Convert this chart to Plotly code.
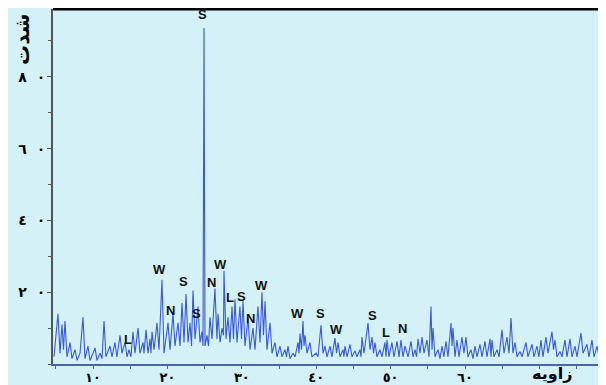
import plotly.graph_objects as go

# 2-theta angles (degrees) and intensities
angles = [4.75,5.02,5.29,5.56,5.83,6.03,6.23,6.50,6.91,7.17,7.58,7.85,8.25,8.65,8.92,9.32,9.59,10.00,10.27,10.53,
          10.94,11.21,11.48,11.74,12.28,12.55,12.95,13.22,13.63,13.89,14.30,14.57,14.84,15.10,15.37,15.64,16.05,16.31,16.72,16.85,
          17.12,17.39,17.66,17.79,17.93,18.20,18.60,18.87,19.27,19.54,19.81,20.08,20.35,20.75,21.02,21.42,21.69,21.96,22.23,22.50,
          22.77,23.03,23.24,23.44,23.71,24.11,24.38,24.65,24.78,24.92,25.05,25.32,25.52,25.72,25.99,26.39,26.66,26.80,27.07,27.34,
          27.54,27.60,27.87,28.14,28.41,28.68,28.88,29.08,29.35,29.75,29.96,30.16,30.43,30.83,31.10,31.50,31.77,32.17,32.44,32.71,
          32.91,33.12,33.38,33.79,34.06,34.46,34.73,35.13,35.40,35.80,36.00,36.21,36.47,36.88,37.15,37.55,37.68,37.82,38.02,38.22,
          38.36,38.49,38.76,39.16,39.43,39.97,40.24,40.64,40.91,41.18,41.45,41.85,42.12,42.52,42.73,42.93,43.20,43.60,43.73,43.87,
          44.14,44.54,44.81,45.21,45.48,45.88,46.02,46.15,46.42,46.96,47.23,47.50,47.70,47.90,48.17,48.57,48.84,49.24,49.38,49.51,
          49.78,50.18,50.45,50.86,51.13,51.39,51.66,51.93,52.34,52.74,53.01,53.28,53.48,53.68,53.95,54.22,54.49,54.89,55.16,55.43,
          55.56,55.70,55.96,56.37,56.64,56.91,57.17,57.44,57.71,58.12,58.25,58.38,58.65,58.92,59.19,59.59,59.86,60.13,60.40,60.80,
          61.07,61.34,61.61,62.01,62.28,62.68,62.95,63.36,63.49,63.63,63.89,64.30,64.57,64.97,65.24,65.64,65.91,66.18,66.45,66.72,
          66.99,67.39,67.66,67.93,68.20,68.46,69.00,69.27,69.67,69.94,70.21,70.48,70.88,71.15,71.69,71.89,72.09,72.36,72.77,73.03,
          73.44,73.71,74.11,74.38,74.78,75.05,75.59,75.86,76.39,76.66,77.07,77.34,77.74,78.01,78.41,78.68,78.95]

intensity = [2,8,14,3,11,4,12,2,6,1.5,4,1,3,13,1.5,5,1,3,4.5,1,
             3,1.5,12,2,5,2,6,2,8,3,6,2,4,2,9,3,10,3,6,3,
             9.5,3,7,3,9,4,11.5,4,23.5,3,8,11.5,4,14,5,11.5,5,17,6,19.5,
             6,11.5,5,20.5,7,16,6,9,5,93.6,5,8,5,13,7,21,7,14,6,10,
             8,26,7,13,6,16,7,18,6,16,7,17.5,5,13,4,10,4,16,6,20,
             8,17.5,4,11.5,3,6,2,5,2,4,2,5,1.5,3,2,6,3,8.5,4,12,
             5,8,3,6,2,3,2,10.8,3,5,2,5,2,7.2,3,6,2,4,2,5,
             2,5.5,2,3.7,2,4,2,7.5,3,11.4,4,7.5,3,6,2,4,2,6,2,6.7,
             2,6,2,6.3,2,6.7,2,5,2,6.3,2,4,2,7,3,7.5,3,6.7,2,16,
             4,10,2,4,1.5,5,2,6.3,2,11.4,5,10,2,6.7,2,7.5,3,7.5,2,4,
             1.5,5,2,5.5,2,6.3,2,7,2,6.7,2,4,2,9.5,3,7.5,3,12.8,3,6,
             2,3.5,2,4,6,2,5.5,2,5,2,6.7,2,7.5,3,9,4,6.7,2,3.5,2,
             6.7,2,7,2,5,2,8.6,3,5.5,2,6.7,2,5,2,6,2,4]

assert len(angles) == len(intensity), (len(angles), len(intensity))

# phase labels
label_text = ["S", "W", "S", "N", "S", "N", "W", "L", "S", "W", "N", "W", "S", "W", "S", "L", "N", "L"]
label_x = [24.78, 19.0, 22.1, 20.45, 23.97, 25.86, 27.2, 28.41, 30.02, 32.71, 31.23, 37.55, 40.51, 42.79, 47.63, 49.38, 51.53, 14.7]
label_y = [97.5, 26.2, 23.1, 14.8, 14.2, 22.6, 27.6, 18.4, 18.7, 22.0, 12.8, 14.2, 14.2, 9.5, 13.4, 8.9, 10.0, 6.7]

x_ticks = [10, 20, 30, 40, 50, 60]
x_ticktext = ["١٠", "٢٠", "٣٠", "٤٠", "٥٠", "٦٠"]
y_ticks = [20, 40, 60, 80]
y_ticktext = ["٢  \u200e٠", "٤  \u200e٠", "٦  \u200e٠", "٨  \u200e٠"]

bg = "#d3f1f7"
fig = go.Figure()
fig.add_trace(go.Scatter(x=angles, y=intensity, mode="lines",
                         line=dict(color="#3a5ad2", width=1.1), showlegend=False))

for t, xv, yv in zip(label_text, label_x, label_y):
    fig.add_annotation(x=xv, y=yv, text=t, showarrow=False, xref="x", yref="y",
                       font=dict(family="Liberation Sans", size=13, color="#111", weight="bold"))

fig.add_annotation(x=0.902, y=-0.028, xref="paper", yref="paper", text="زاویه", showarrow=False,
                   xanchor="center", yanchor="middle",
                   font=dict(family="DejaVu Sans", size=16, color="#000", weight="bold"))
fig.add_annotation(x=-0.056, y=0.913, xref="paper", yref="paper", text="شدت", showarrow=False,
                   textangle=-90, xanchor="center", yanchor="middle",
                   font=dict(family="DejaVu Sans", size=20, color="#000", weight="bold"))

# black rule on top
fig.add_shape(type="line", xref="paper", yref="paper", x0=0, x1=1, y0=1.0, y1=1.0,
              line=dict(color="black", width=3))

fig.update_layout(
    width=598, height=377,
    margin=dict(l=45, r=0, t=1, b=21, autoexpand=False),
    paper_bgcolor=bg, plot_bgcolor=bg,
    xaxis=dict(range=[4.62, 78.95], tickvals=x_ticks, ticktext=x_ticktext, automargin=False,
               showgrid=False, zeroline=False, showline=True, linecolor="#4a66a8", linewidth=1.5,
               ticks="outside", ticklen=3, tickcolor="#4a66a8", ticklabelstandoff=-2,
               minor=dict(dtick=5, ticks="outside", ticklen=3, tickcolor="#4a66a8", showgrid=False),
               tickfont=dict(family="DejaVu Sans", size=13, color="#000", weight="bold")),
    yaxis=dict(range=[0, 98.9], tickvals=y_ticks, ticktext=y_ticktext, automargin=False,
               showgrid=False, zeroline=False, showline=True, linecolor="#555", linewidth=2,
               ticks="outside", ticklen=4, tickcolor="#555", ticklabelstandoff=-1,
               minor=dict(dtick=10, ticks="outside", ticklen=3, tickcolor="#555", showgrid=False),
               tickfont=dict(family="DejaVu Sans", size=14, color="#000", weight="bold")),
)

fig.write_html("out.html")
